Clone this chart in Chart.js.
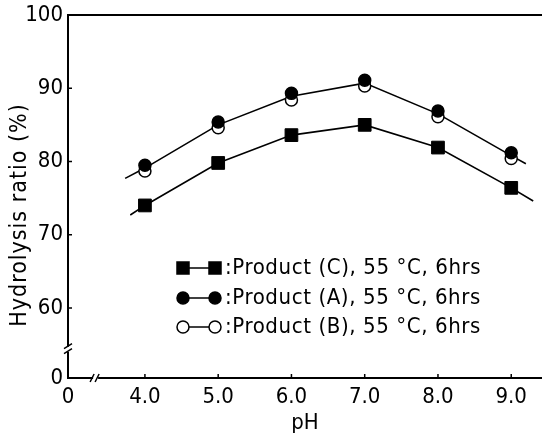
<html>
  <head>
    <title>Hydrolysis ratio vs pH</title>
    <style>
      body {
        margin: 0;
        padding: 0;
        background: #fff;
      }
      canvas#chart {
        display: block;
      }
    </style>
    <script src="https://cdn.jsdelivr.net/npm/chart.js@4.4.1/dist/chart.umd.min.js"></script>
    <script>
      // values
      const phValues = [4.0, 5.0, 6.0, 7.0, 8.0, 9.0];
      const productC = [74.0, 79.8, 83.6, 85.0, 81.9, 76.4];
      const productA = [79.5, 85.4, 89.3, 91.1, 86.9, 81.2];
      const productB = [78.7, 84.6, 88.4, 90.3, 86.1, 80.4];
      // fitted curves as drawn (they run a bit past the end points)
      const curveABx = [3.73, 4.0, 5.0, 6.0, 7.0, 8.0, 9.0, 9.2];
      const curveABy = [77.7, 79.1, 85.0, 88.9, 90.7, 86.5, 80.8, 79.7];
      const curveCx = [3.8, 4.0, 5.0, 6.0, 7.0, 8.0, 9.0, 9.3];
      const curveCy = [72.7, 74.0, 79.8, 83.6, 85.0, 81.9, 76.4, 74.6];
      const yTicks = [60, 70, 80, 90, 100];
      const labels = [
        ':Product (C), 55 °C, 6hrs',
        ':Product (A), 55 °C, 6hrs',
        ':Product (B), 55 °C, 6hrs',
      ];

      // broken axes: the axis minimum stands for "0"
      const X_MIN = 2.95;
      const X_MAX = 9.42;
      const Y_MIN = 50.44;
      const FONT = "'DejaVu Sans Condensed', 'DejaVu Sans', sans-serif";

      const pts = (xs, ys) => xs.map((v, i) => ({ x: v, y: ys[i] }));

      const decor = {
        id: 'decor',
        afterDraw(chart) {
          const { ctx, chartArea: a, scales } = chart;
          const x = scales.x;
          const y = scales.y;
          ctx.save();
          ctx.strokeStyle = '#000';
          ctx.fillStyle = '#000';

          // top frame line
          ctx.lineWidth = 2;
          ctx.beginPath();
          ctx.moveTo(a.left - 1, a.top);
          ctx.lineTo(a.right, a.top);
          ctx.stroke();

          // inward tick marks
          ctx.lineWidth = 1.5;
          ctx.beginPath();
          x.ticks.forEach((t) => {
            if (t.value === X_MIN) return;
            const px = x.getPixelForValue(t.value);
            ctx.moveTo(px, a.bottom);
            ctx.lineTo(px, a.bottom - 4);
          });
          y.ticks.forEach((t) => {
            if (t.value === Y_MIN || t.value === 100) return;
            const py = y.getPixelForValue(t.value);
            ctx.moveTo(a.left, py);
            ctx.lineTo(a.left + 4, py);
          });
          ctx.stroke();

          // axis breaks
          const by = y.getPixelForValue(54.3);
          ctx.fillStyle = '#fff';
          ctx.fillRect(a.left - 3, by - 3, 6, 5);
          ctx.beginPath();
          ctx.moveTo(a.left - 4, by - 1);
          ctx.lineTo(a.left + 4, by - 6);
          ctx.moveTo(a.left - 4, by + 4);
          ctx.lineTo(a.left + 4, by - 1);
          ctx.stroke();
          const bx = x.getPixelForValue(3.32);
          ctx.fillRect(bx - 2, a.bottom - 3, 5, 6);
          ctx.beginPath();
          ctx.moveTo(bx - 5, a.bottom + 4);
          ctx.lineTo(bx - 1, a.bottom - 4);
          ctx.moveTo(bx, a.bottom + 4);
          ctx.lineTo(bx + 4, a.bottom - 4);
          ctx.stroke();

          // y title
          ctx.fillStyle = '#000';
          ctx.font = '23px ' + FONT;
          ctx.letterSpacing = '1px';
          ctx.textAlign = 'center';
          ctx.textBaseline = 'middle';
          ctx.save();
          ctx.translate(20, 215);
          ctx.rotate(-Math.PI / 2);
          ctx.fillText('Hydrolysis ratio (%)', 0, 0);
          ctx.restore();

          // legend inside the plot
          const rows = [2, 0, 1];
          const rowY = [268, 298, 327];
          ctx.letterSpacing = '0.6px';
          rows.forEach((di, r) => {
            const ds = chart.data.datasets[di];
            const yy = rowY[r];
            ctx.strokeStyle = '#000';
            ctx.lineWidth = 1.5;
            ctx.beginPath();
            ctx.moveTo(183, yy);
            ctx.lineTo(215, yy);
            ctx.stroke();
            [183, 215].forEach((mx) => {
              ctx.beginPath();
              if (ds.pointStyle === 'rect') {
                ctx.rect(mx - 6, yy - 6, 12, 12);
              } else {
                ctx.arc(mx, yy, 6, 0, Math.PI * 2);
              }
              ctx.fillStyle = ds.pointBackgroundColor;
              ctx.fill();
              ctx.stroke();
            });
            ctx.fillStyle = '#000';
            ctx.font = '22px ' + FONT;
            ctx.textAlign = 'left';
            ctx.fillText(ds.label, 225, yy);
          });
          ctx.restore();
        },
      };

      document.addEventListener('DOMContentLoaded', function () {
        new Chart(document.getElementById('chart'), {
          type: 'scatter',
          data: {
            datasets: [
              {
                label: labels[1],
                data: pts(phValues, productA),
                pointStyle: 'circle',
                pointRadius: 6,
                pointBackgroundColor: '#000',
                pointBorderColor: '#000',
                pointBorderWidth: 1.5,
                showLine: false,
              },
              {
                label: labels[2],
                data: pts(phValues, productB),
                pointStyle: 'circle',
                pointRadius: 6,
                pointBackgroundColor: '#fff',
                pointBorderColor: '#000',
                pointBorderWidth: 1.5,
                showLine: false,
              },
              {
                label: labels[0],
                data: pts(phValues, productC),
                pointStyle: 'rect',
                pointRadius: 9,
                pointBackgroundColor: '#000',
                pointBorderColor: '#000',
                pointBorderWidth: 1,
                showLine: false,
              },
              {
                label: 'curve A/B',
                data: pts(curveABx, curveABy),
                showLine: true,
                pointRadius: 0,
                borderColor: '#000',
                borderWidth: 1.6,
              },
              {
                label: 'curve C',
                data: pts(curveCx, curveCy),
                showLine: true,
                pointRadius: 0,
                borderColor: '#000',
                borderWidth: 1.6,
              },
            ],
          },
          options: {
            responsive: false,
            animation: false,
            devicePixelRatio: 1,
            layout: { autoPadding: false, padding: { top: 15, right: 0, left: 0, bottom: 0 } },
            plugins: {
              legend: { display: false },
              tooltip: { enabled: false },
            },
            scales: {
              x: {
                type: 'linear',
                min: X_MIN,
                max: X_MAX,
                afterBuildTicks: (s) => {
                  s.ticks = [X_MIN].concat(phValues).map((v) => ({ value: v }));
                },
                afterFit: (s) => {
                  s.height = 58;
                  s.paddingLeft = 0;
                  s.paddingRight = 0;
                },
                ticks: {
                  autoSkip: false,
                  maxRotation: 0,
                  padding: 6,
                  color: '#000',
                  font: { family: FONT, size: 22 },
                  callback: (v) => (v === X_MIN ? '0' : v.toFixed(1)),
                },
                grid: { drawOnChartArea: false, drawTicks: false },
                border: { color: '#000', width: 2 },
                title: {
                  display: true,
                  text: 'pH',
                  color: '#000',
                  padding: 0,
                  font: { family: FONT, size: 22 },
                },
              },
              y: {
                type: 'linear',
                min: Y_MIN,
                max: 100,
                afterBuildTicks: (s) => {
                  s.ticks = [Y_MIN].concat(yTicks).map((v) => ({ value: v }));
                },
                afterFit: (s) => {
                  s.width = 68;
                  s.paddingTop = 0;
                  s.paddingBottom = 0;
                },
                ticks: {
                  autoSkip: false,
                  padding: 5,
                  color: '#000',
                  font: { family: FONT, size: 22 },
                  callback: (v) => (v === Y_MIN ? '0' : String(v)),
                },
                grid: { drawOnChartArea: false, drawTicks: false },
                border: { color: '#000', width: 2 },
              },
            },
          },
          plugins: [decor],
        });
      });
    </script>
  </head>
  <body>
    <canvas id="chart" width="542" height="436"></canvas>
  </body>
</html>
